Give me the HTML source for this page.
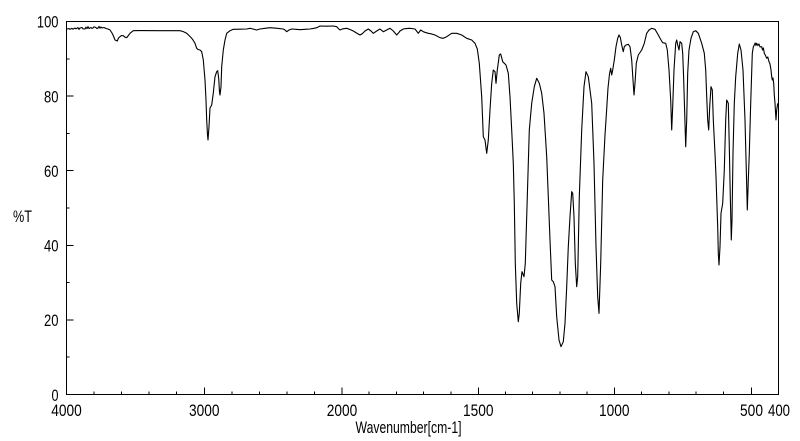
<!DOCTYPE html>
<html><head><meta charset="utf-8"><style>
html,body{margin:0;padding:0;background:#fff;}
svg{display:block;}
text{font-family:"Liberation Sans",sans-serif;font-size:17px;fill:#000;}
</style></head><body>
<svg width="800" height="441" viewBox="0 0 800 441" xmlns="http://www.w3.org/2000/svg">
<rect x="0" y="0" width="800" height="441" fill="#fff"/>
<g stroke="#000" stroke-width="1" fill="none" shape-rendering="crispEdges">
<path d="M66.5 21.5H778.5V394.5H66.5Z"/>
<!-- y ticks -->
<path d="M66.5 21.5h7M66.5 58.8h3M66.5 96.1h7M66.5 133.4h3M66.5 170.7h7M66.5 208h3M66.5 245.3h7M66.5 282.6h3M66.5 319.9h7M66.5 357.2h3"/>
<!-- x ticks above 2000 every 200 -->
<path d="M94 394.5v-3M121.6 394.5v-3M149.1 394.5v-3M176.7 394.5v-3M204.3 394.5v-7M231.8 394.5v-3M259.4 394.5v-3M286.9 394.5v-3M314.5 394.5v-3M342 394.5v-7"/>
<!-- below 2000 every 100 -->
<path d="M369.1 394.5v-3M396.4 394.5v-3M423.6 394.5v-3M450.9 394.5v-3M478.5 394.5v-7M505.3 394.5v-3M532.6 394.5v-3M559.8 394.5v-3M587.1 394.5v-3M614.3 394.5v-7M641.6 394.5v-3M668.8 394.5v-3M696.1 394.5v-3M723.3 394.5v-3M751.3 394.5v-7"/>
</g>
<g text-anchor="end">
<text x="58.5" y="27.5" textLength="21.6" lengthAdjust="spacingAndGlyphs">100</text>
<text x="58.5" y="102.5" textLength="14.5" lengthAdjust="spacingAndGlyphs">80</text>
<text x="58.5" y="177" textLength="14.5" lengthAdjust="spacingAndGlyphs">60</text>
<text x="58.5" y="251.5" textLength="14.5" lengthAdjust="spacingAndGlyphs">40</text>
<text x="58.5" y="326" textLength="14.5" lengthAdjust="spacingAndGlyphs">20</text>
<text x="58.5" y="401" textLength="7" lengthAdjust="spacingAndGlyphs">0</text>
</g>
<text x="13" y="222" textLength="19" lengthAdjust="spacingAndGlyphs">%T</text>
<g text-anchor="middle">
<text x="66.5" y="416" textLength="30.5" lengthAdjust="spacingAndGlyphs">4000</text>
<text x="204.3" y="416" textLength="30.5" lengthAdjust="spacingAndGlyphs">3000</text>
<text x="342" y="416" textLength="30.5" lengthAdjust="spacingAndGlyphs">2000</text>
<text x="478.3" y="416" textLength="30.5" lengthAdjust="spacingAndGlyphs">1500</text>
<text x="614.3" y="416" textLength="30.5" lengthAdjust="spacingAndGlyphs">1000</text>
<text x="751.5" y="416" textLength="23" lengthAdjust="spacingAndGlyphs">500</text>
<text x="779" y="416" textLength="22" lengthAdjust="spacingAndGlyphs">400</text>
</g>
<text x="355.5" y="433" textLength="106" lengthAdjust="spacingAndGlyphs">Wavenumber[cm-1]</text>
<polyline fill="none" stroke="#000" stroke-width="1.1" stroke-linejoin="round" points="
67,29 69,28.6 70,29.3 72,28.4 73,29.2 75,28 76,28.8 78,27.6 79,29.4 80,28 82,27.5 83,28.8 85,29 86,27.2 87,28.6 88,26.6 89,28.5 91,27.5 92,28.4 93,28 94,26.8 96,27.6 97,28.6 98,28 99,26.4 100,28.2 101,27 102,28 104,27.5 106,28.5 108,29 110,30 112,33 113,35 115,40 117.3,41 118.5,38 120,36.7 121.5,35.5 123.3,35.7 125,37.2 126.7,37.7 128,36 130,33.3 133.3,30.7 140,30.6 160,30.7 180,30.7 183,31.5 186.7,33.3 189,35.5 191.7,38.3 193,40 195,43.3 196.7,48.3 198,49.5 200,50 201.7,51.7 203.3,60 205,80 206,100 206.7,120 207.5,135 208,140 209,126.7 210,108 211.7,105 213.3,93 215,76.7 216.7,71.7 217.7,70.7 218.7,78.3 219.5,92 220,95 221,86.7 221.7,66.7 223.3,50 225,40 226.7,33.3 230,30.7 233.3,29.3 240,29.2 246.7,29 250,28.3 253,29 256.7,30 260,29 265,28.3 270,27.7 276,28.2 283.3,29 285,30 286.7,31.7 289,30 291.7,29 296,29.3 300,29.7 305,29.3 310,29 314,28.3 316.7,27.7 320,26 326,26.2 333.3,26 336.7,26.7 338.5,28.6 340,30 343,28.8 346.7,28.3 350,29.5 353.3,31 356.5,33 360,35 362.5,33.5 365,31 368.3,29 371,31 373.3,33.3 376.7,31 380,29 383.3,31.7 386.7,30 390,28.3 393.3,31 396.7,35 398.5,33 400,31 403.3,29 406,28.6 410,28.3 415,29 418.3,33.3 420.7,30 423.3,31.7 425,32.3 428.3,33.3 431,33.8 435,35 440,37.7 443.3,38.3 446.7,36.7 451.7,33.3 456.7,33.3 461.7,35 466.7,38.3 471.7,40 475,43.3 477.3,49 479.3,63.3 481.7,96.7 483.3,136.7 485,140 486.7,153.3 488.3,140 490,110 491.7,83.3 493.3,70 495,71.7 496,83.3 497.3,70 499.3,55 500.7,54 502.7,61.7 506,65 508.3,73.3 510,96.7 511.7,130 513.3,163.3 514.3,203.3 515.3,263.3 516.7,303.3 518.3,321.7 519.3,313.3 520.7,283.3 522,271.7 524,276.7 525.3,263.3 527.3,196.7 529.3,130 531.7,103.3 534.3,86.7 536.7,78.3 539.3,83.3 541.7,93.3 544,113.3 546.7,156.7 548.3,196.7 550,240 551.7,280 553.3,281.7 555,286.7 556.7,316.7 559,340 561,346.7 563.3,341.7 565,323.3 566.7,286.7 568.3,246.7 570,216.7 571.7,191.7 572.7,193.3 574,216.7 575.3,263.3 576.7,286.7 577.7,276.7 579.3,196.7 581.7,130 584,86.7 586,71.7 588.3,76.7 591.7,103.3 594,163.3 596,246.7 597.7,296.7 599,313.3 600.7,263.3 602.7,180 605,135 606.5,112 608,88 609.5,74 610.7,68.3 611.7,75 612.7,70 614.3,60 616,46.7 617.7,38.3 619,35 620.3,37.3 621.7,45 623.3,51.7 624.3,46.7 626,45 628.3,44.3 630,46.7 631.7,60 633,80 634,95 635,83.3 636.3,63.3 638.3,55 641.7,50 644.3,43.3 646.7,33.3 649,30 651.7,28.3 655,29.3 658.3,35 661,40 662.7,42.7 665.7,43.3 667.3,50 669,70 670.7,100 671.7,130 672.7,106.7 674,70 675.7,43.3 676.7,40 677.7,45 679,50 680,41.7 681.7,43.3 682.7,53.3 683.7,80 684.7,113.3 685.7,146.7 686.7,120 687.7,73.3 689,50 691,38.3 693.3,31.7 695.7,30.7 698.3,33.3 701.7,43.3 704.3,53.3 705.7,70 706.7,96.7 707.7,120 708.7,130 709.7,106.7 711,86.7 712.3,90 713.3,120 715,153.3 716,176.7 717,206.7 717.7,226.7 718.3,253.3 719,265 720,246.7 721,213.3 722.7,203.3 724.3,170 725.7,120 726.7,100 728.3,103.3 729.3,146.7 730.3,196.7 731.3,240 732,220 733,153.3 734.3,103.3 735.7,76.7 737.7,53.3 739.3,44 741,50 743,70 745,120 746.3,170 747.3,210 748.3,180 749.3,153.3 750.7,103.3 752.3,53.3 753.3,47 754.3,45 755.2,43 756,45.5 756.7,43.3 757.8,45.5 759,44 760,47 761.7,46.7 762.5,50 763.4,48 764.3,53.3 765.5,55.5 766.7,58.3 767.8,57 769,61.7 770,64 771,70 771.6,76 772.3,80 773,78 773.7,83.3 774.3,95 775,103.3 776,120 776.7,110 777.7,103.3"/>
</svg>
</body></html>
